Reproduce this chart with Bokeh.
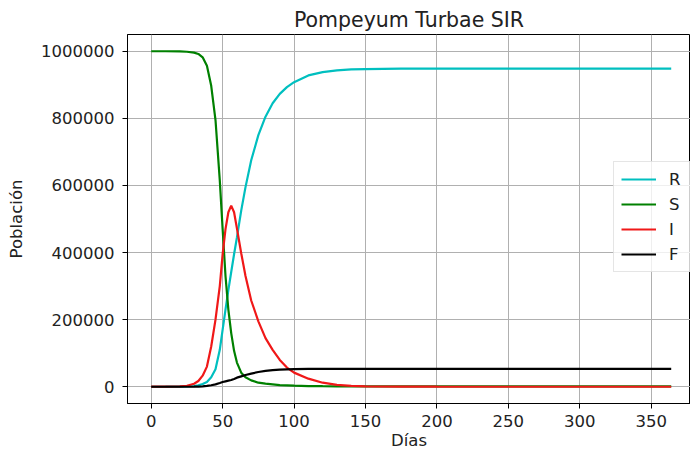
from bokeh.plotting import figure
from bokeh.models import Range1d, Legend, LegendItem, BasicTickFormatter, FixedTicker
from bokeh.embed import file_html
from bokeh.resources import INLINE

# ---- data ----
days = [0, 10, 20, 25, 30, 33, 36, 39, 42, 45, 48, 50, 52, 54, 56, 58, 60, 63, 66, 70,
        75, 80, 85, 90, 95, 100, 110, 120, 130, 140, 150, 175, 200, 250, 300, 364]

recovered = [0, 50, 300, 800, 2000, 4000, 8000, 14000, 28000, 52000, 110000, 170000, 230000,
             288000, 342000, 395000, 445000, 525000, 595000, 675000, 750000, 805000, 845000,
             873000, 893000, 908000, 928000, 938000, 943000, 946000, 947000, 948000, 948000,
             948000, 948000, 948000]

susceptible = [1000000, 1000000, 999500, 998500, 996000, 992000, 982000, 957000, 897000,
               795000, 615000, 470000, 330000, 230000, 160000, 107000, 72000, 42000, 28000,
               19000, 12000, 9000, 7000, 5000, 4000, 3000, 2000, 1500, 1200, 1000, 1000, 1000,
               1000, 1000, 1000, 1000]

infected = [10, 200, 1000, 3000, 9000, 17000, 33000, 60000, 120000, 200000, 300000, 395000,
            470000, 520000, 540000, 520000, 472000, 398000, 330000, 257000, 195000, 145000,
            110000, 80000, 57000, 42000, 24000, 12000, 5500, 2500, 1200, 200, 50, 0, 0, 0]

fallecidos = [0, 0, 0, 0, 100, 300, 1000, 2500, 4500, 7000, 11000, 14000, 16000, 18000, 20000,
              23000, 27000, 31000, 35000, 39000, 44000, 47000, 49500, 51000, 52000, 52500, 53000,
              53000, 53000, 53000, 53000, 53000, 53000, 53000, 53000, 53000]

x_ticks = [0, 50, 100, 150, 200, 250, 300, 350]
y_ticks = [0, 200000, 400000, 600000, 800000, 1000000]

series_names = ["R", "S", "I", "F"]
series_colors = ["#00bfbf", "#008000", "#f01818", "#000000"]

FONT = "DejaVu Sans"
TXT = "#222222"

p = figure(width=690, height=454, output_backend="svg", toolbar_location=None,
           x_range=Range1d(-16.6, 377.5), y_range=Range1d(-50000, 1050000),
           min_border_left=127, min_border_right=0, min_border_top=34, min_border_bottom=51,
           title="Pompeyum Turbae SIR")

p.background_fill_color = "white"
p.border_fill_color = "white"
p.outline_line_color = "black"
p.outline_line_width = 1

p.title.text_font = FONT
p.title.text_font_size = "20.5px"
p.title.text_font_style = "normal"
p.title.text_color = TXT
p.title.align = "center"
p.title.standoff = 5

p.xaxis.axis_label = "Días"
p.yaxis.axis_label = "Población"
for ax in (p.xaxis, p.yaxis):
    ax.axis_label_text_font = FONT
    ax.axis_label_text_font_size = "16.5px"
    ax.axis_label_text_font_style = "normal"
    ax.axis_label_text_color = TXT
    ax.major_label_text_font = FONT
    ax.major_label_text_font_size = "16.5px"
    ax.major_label_text_color = TXT
    ax.major_tick_out = 5
    ax.major_tick_in = 0
    ax.minor_tick_out = 0
    ax.minor_tick_in = 0
    ax.minor_tick_line_color = None
    ax.axis_line_color = "black"
    ax.major_tick_line_color = "black"

p.xaxis.major_label_standoff = 6
p.xaxis.axis_label_standoff = 1
p.yaxis.major_label_standoff = 8
p.yaxis.axis_label_standoff = 12
p.xaxis.ticker = FixedTicker(ticks=x_ticks)
p.yaxis.ticker = FixedTicker(ticks=y_ticks)
p.yaxis.formatter = BasicTickFormatter(use_scientific=False)

p.xgrid.ticker = FixedTicker(ticks=x_ticks)
p.ygrid.ticker = FixedTicker(ticks=y_ticks)
p.grid.grid_line_color = "#b0b0b0"
p.grid.grid_line_width = 1

data = [recovered, susceptible, infected, fallecidos]
items = []
for name, col, vals in zip(series_names, series_colors, data):
    r = p.line(days, vals, line_color=col, line_width=2.2)
    items.append(LegendItem(label=name, renderers=[r]))

legend = Legend(items=items, location=(486, 131), margin=0, padding=7, spacing=5,
                glyph_width=35, glyph_height=20, label_height=20, label_standoff=13,
                label_text_font=FONT, label_text_font_size="16.5px", label_text_color=TXT,
                border_line_color="#cccccc", border_line_width=1,
                background_fill_color="white", background_fill_alpha=0.8)
p.add_layout(legend, "center")

open("out.html", "w").write(file_html(p, INLINE))
